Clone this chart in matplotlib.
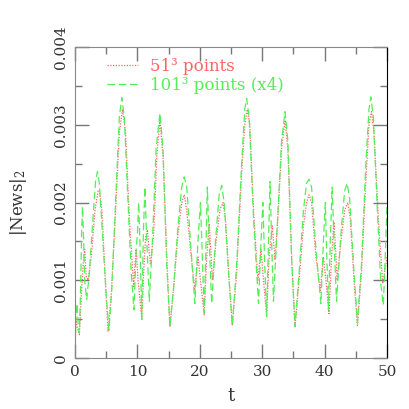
import numpy as np
import matplotlib
matplotlib.use('Agg')
import matplotlib.pyplot as plt
from matplotlib.ticker import MultipleLocator

# 51^3 points (red, dotted) -- values in units of 1e-3
r_t = [0.0, 0.15, 0.35, 0.7, 1.0, 1.3, 1.55, 1.8, 2.1, 2.6, 3.2, 3.7, 3.9, 4.3, 4.8,
       5.3, 5.8, 6.5, 7.1, 7.6, 8.1, 8.7, 9.4, 9.6, 9.8, 10.1, 10.7, 11.0, 11.3, 11.6,
       11.85, 12.1, 12.6, 13.1, 13.6, 14.1, 14.7, 15.2, 15.8, 16.5, 17.1, 17.5, 17.9,
       18.5, 19.2, 19.7, 20.1, 20.7, 21.1, 21.5, 21.75, 22.0, 22.6, 23.2, 23.7, 24.1,
       24.7, 25.2, 25.9, 26.7, 27.2, 27.6, 28.0, 28.6, 29.3, 29.8, 30.2, 30.7, 31.1,
       31.6, 32.05, 32.5, 33.1, 33.65, 34.1, 34.7, 35.25, 35.9, 36.6, 37.1, 37.5, 37.9,
       38.6, 39.3, 39.8, 40.2, 40.7, 41.1, 41.5, 41.75, 42.0, 42.6, 43.2, 43.7, 44.1,
       44.7, 45.25, 45.9, 46.6, 47.1, 47.5, 47.9, 48.6, 49.3, 49.7, 50.0]
r_v = [0.1, 0.5, 0.4, 0.3, 0.8, 1.2, 1.4, 1.05, 1.0, 1.3, 1.9, 2.15, 2.16, 1.9, 1.1,
       0.34, 0.8, 1.9, 2.9, 3.2, 2.9, 1.8, 0.92, 1.2, 1.4, 1.0, 0.5, 1.1, 1.55, 1.65,
       1.4, 1.2, 1.6, 2.6, 3.06, 2.6, 1.3, 0.4, 0.9, 1.6, 2.0, 2.1, 1.9,
       1.4, 0.87, 1.3, 1.0, 0.55, 1.3, 1.73, 1.4, 1.0, 1.5, 1.9, 2.0, 1.8,
       1.0, 0.42, 1.1, 2.4, 3.0, 3.2, 3.0, 1.9, 1.0, 1.4, 1.0, 0.55, 1.3,
       1.7, 1.26, 1.8, 2.7, 3.06, 2.7, 1.3, 0.4, 1.0, 1.7, 2.0, 2.1, 2.0,
       1.3, 0.87, 1.3, 1.0, 0.57, 1.3, 1.75, 1.4, 1.0, 1.5, 1.9, 2.0, 1.8,
       1.0, 0.42, 1.1, 2.3, 3.0, 3.17, 2.9, 1.8, 0.96, 1.15, 1.3]

# 101^3 points (x4) (green, dashed) -- values in units of 1e-3
g_t = [0.0, 0.1, 0.3, 0.5, 0.7, 0.9, 1.05, 1.2, 1.35, 1.55, 1.87, 2.3, 2.8, 3.3, 3.6,
       3.9, 4.4, 5.0, 5.45, 5.9, 6.5, 7.1, 7.5, 7.9, 8.5, 9.0, 9.45, 9.8, 10.0, 10.2,
       10.4, 10.7, 10.95, 11.2, 11.45, 11.9, 12.4, 13.0, 13.6, 14.1, 14.7, 15.2, 15.8,
       16.5, 17.1, 17.5, 17.9, 18.5, 19.2, 19.7, 20.1, 20.4, 20.7, 21.0, 21.2, 21.5,
       21.9, 22.5, 23.1, 23.5, 23.9, 24.6, 25.2, 25.9, 26.7, 27.2, 27.5, 27.9, 28.6,
       29.4, 29.8, 30.1, 30.4, 30.7, 31.0, 31.25, 31.5, 31.8, 32.4, 33.1, 33.65, 34.1,
       34.7, 35.25, 35.9, 36.6, 37.1, 37.5, 37.9, 38.6, 39.4, 39.8, 40.1, 40.35, 40.6,
       40.9, 41.2, 41.5, 41.9, 42.6, 43.2, 43.6, 44.0, 44.7, 45.25, 45.9, 46.6, 47.1,
       47.4, 47.8, 48.5, 49.0, 49.4, 49.7, 50.0]
g_v = [0.0, 0.45, 0.7, 0.45, 0.32, 0.9, 1.6, 1.95, 1.6, 1.0, 0.75, 1.1, 1.7, 2.28, 2.4,
       2.25, 1.6, 0.8, 0.36, 0.9, 2.0, 3.1, 3.35, 3.1, 2.0, 1.1, 0.62, 1.4, 1.6, 2.0,
       1.5, 0.5, 1.6, 2.2, 1.6, 0.73, 1.5, 2.7, 3.15, 2.7, 1.2, 0.4, 0.9,
       1.7, 2.2, 2.33, 2.2, 1.5, 0.7, 1.5, 2.0, 1.3, 0.58, 1.5, 2.2, 1.5,
       0.7, 1.5, 2.1, 2.22, 2.0, 1.1, 0.42, 1.2, 2.5, 3.2, 3.34, 3.1, 1.8,
       0.7, 1.5, 2.0, 1.2, 0.53, 1.5, 2.27, 1.5, 0.73, 1.7, 2.8, 3.17, 2.8,
       1.3, 0.4, 1.1, 1.9, 2.25, 2.3, 2.2, 1.4, 0.7, 1.5, 2.0, 1.3, 0.62,
       1.5, 2.2, 1.5, 0.73, 1.6, 2.15, 2.25, 2.05, 1.1, 0.45, 1.2, 2.5, 3.2,
       3.36, 3.1, 1.8, 0.95, 0.68, 1.3, 2.0]

red = '#ff6464'
green = '#55ee55'

plt.rcParams['font.family'] = ['DejaVu Serif']
plt.rcParams['mathtext.fontset'] = 'dejavuserif'

fig = plt.figure(figsize=(4.09, 4.09), dpi=100)
ax = fig.add_axes([0.1834, 0.1247, 0.763, 0.760])

ax.plot(r_t, np.array(r_v) * 1e-3, color=red, ls=(0, (1, 1.2)), lw=0.9,
        label='51³ points')
ax.plot(g_t, np.array(g_v) * 1e-3, color=green, ls=(0, (6, 3)), lw=0.9,
        label='101³ points (x4)')

ax.set_xlim(0, 50)
ax.set_ylim(0, 0.004)
ax.xaxis.set_major_locator(MultipleLocator(10))
ax.xaxis.set_minor_locator(MultipleLocator(5))
ax.yaxis.set_major_locator(MultipleLocator(0.001))
ax.yaxis.set_minor_locator(MultipleLocator(0.0005))
ax.tick_params(which='both', direction='in', top=True, right=True, color='#777777',
               labelsize=11, labelcolor='#333333')
ax.tick_params(which='major', length=10, width=1, pad=5)
ax.tick_params(which='minor', length=5, width=1)
ax.set_xticks([0, 10, 20, 30, 40, 50])
ax.set_yticks([0, 0.001, 0.002, 0.003, 0.004])
ax.set_yticklabels(['0', '0.001', '0.002', '0.003', '0.004'], rotation=90, va='center')

for side in ['left', 'bottom', 'top']:
    ax.spines[side].set_color('#888888')
ax.spines['right'].set_color('black')

ax.set_xlabel('t', fontsize=13, color='#333333', labelpad=6)
ax.set_ylabel('|News|$_2$', fontsize=12, color='#333333', labelpad=18)

leg = ax.legend(loc='upper left', frameon=False, fontsize=12, handlelength=1.85,
                handletextpad=0.75, borderpad=0, borderaxespad=0, labelspacing=0.12,
                bbox_to_anchor=(0.103, 0.966))
for txt, col in zip(leg.get_texts(), [red, green]):
    txt.set_color(col)

fig.savefig('out.png', dpi=100)
